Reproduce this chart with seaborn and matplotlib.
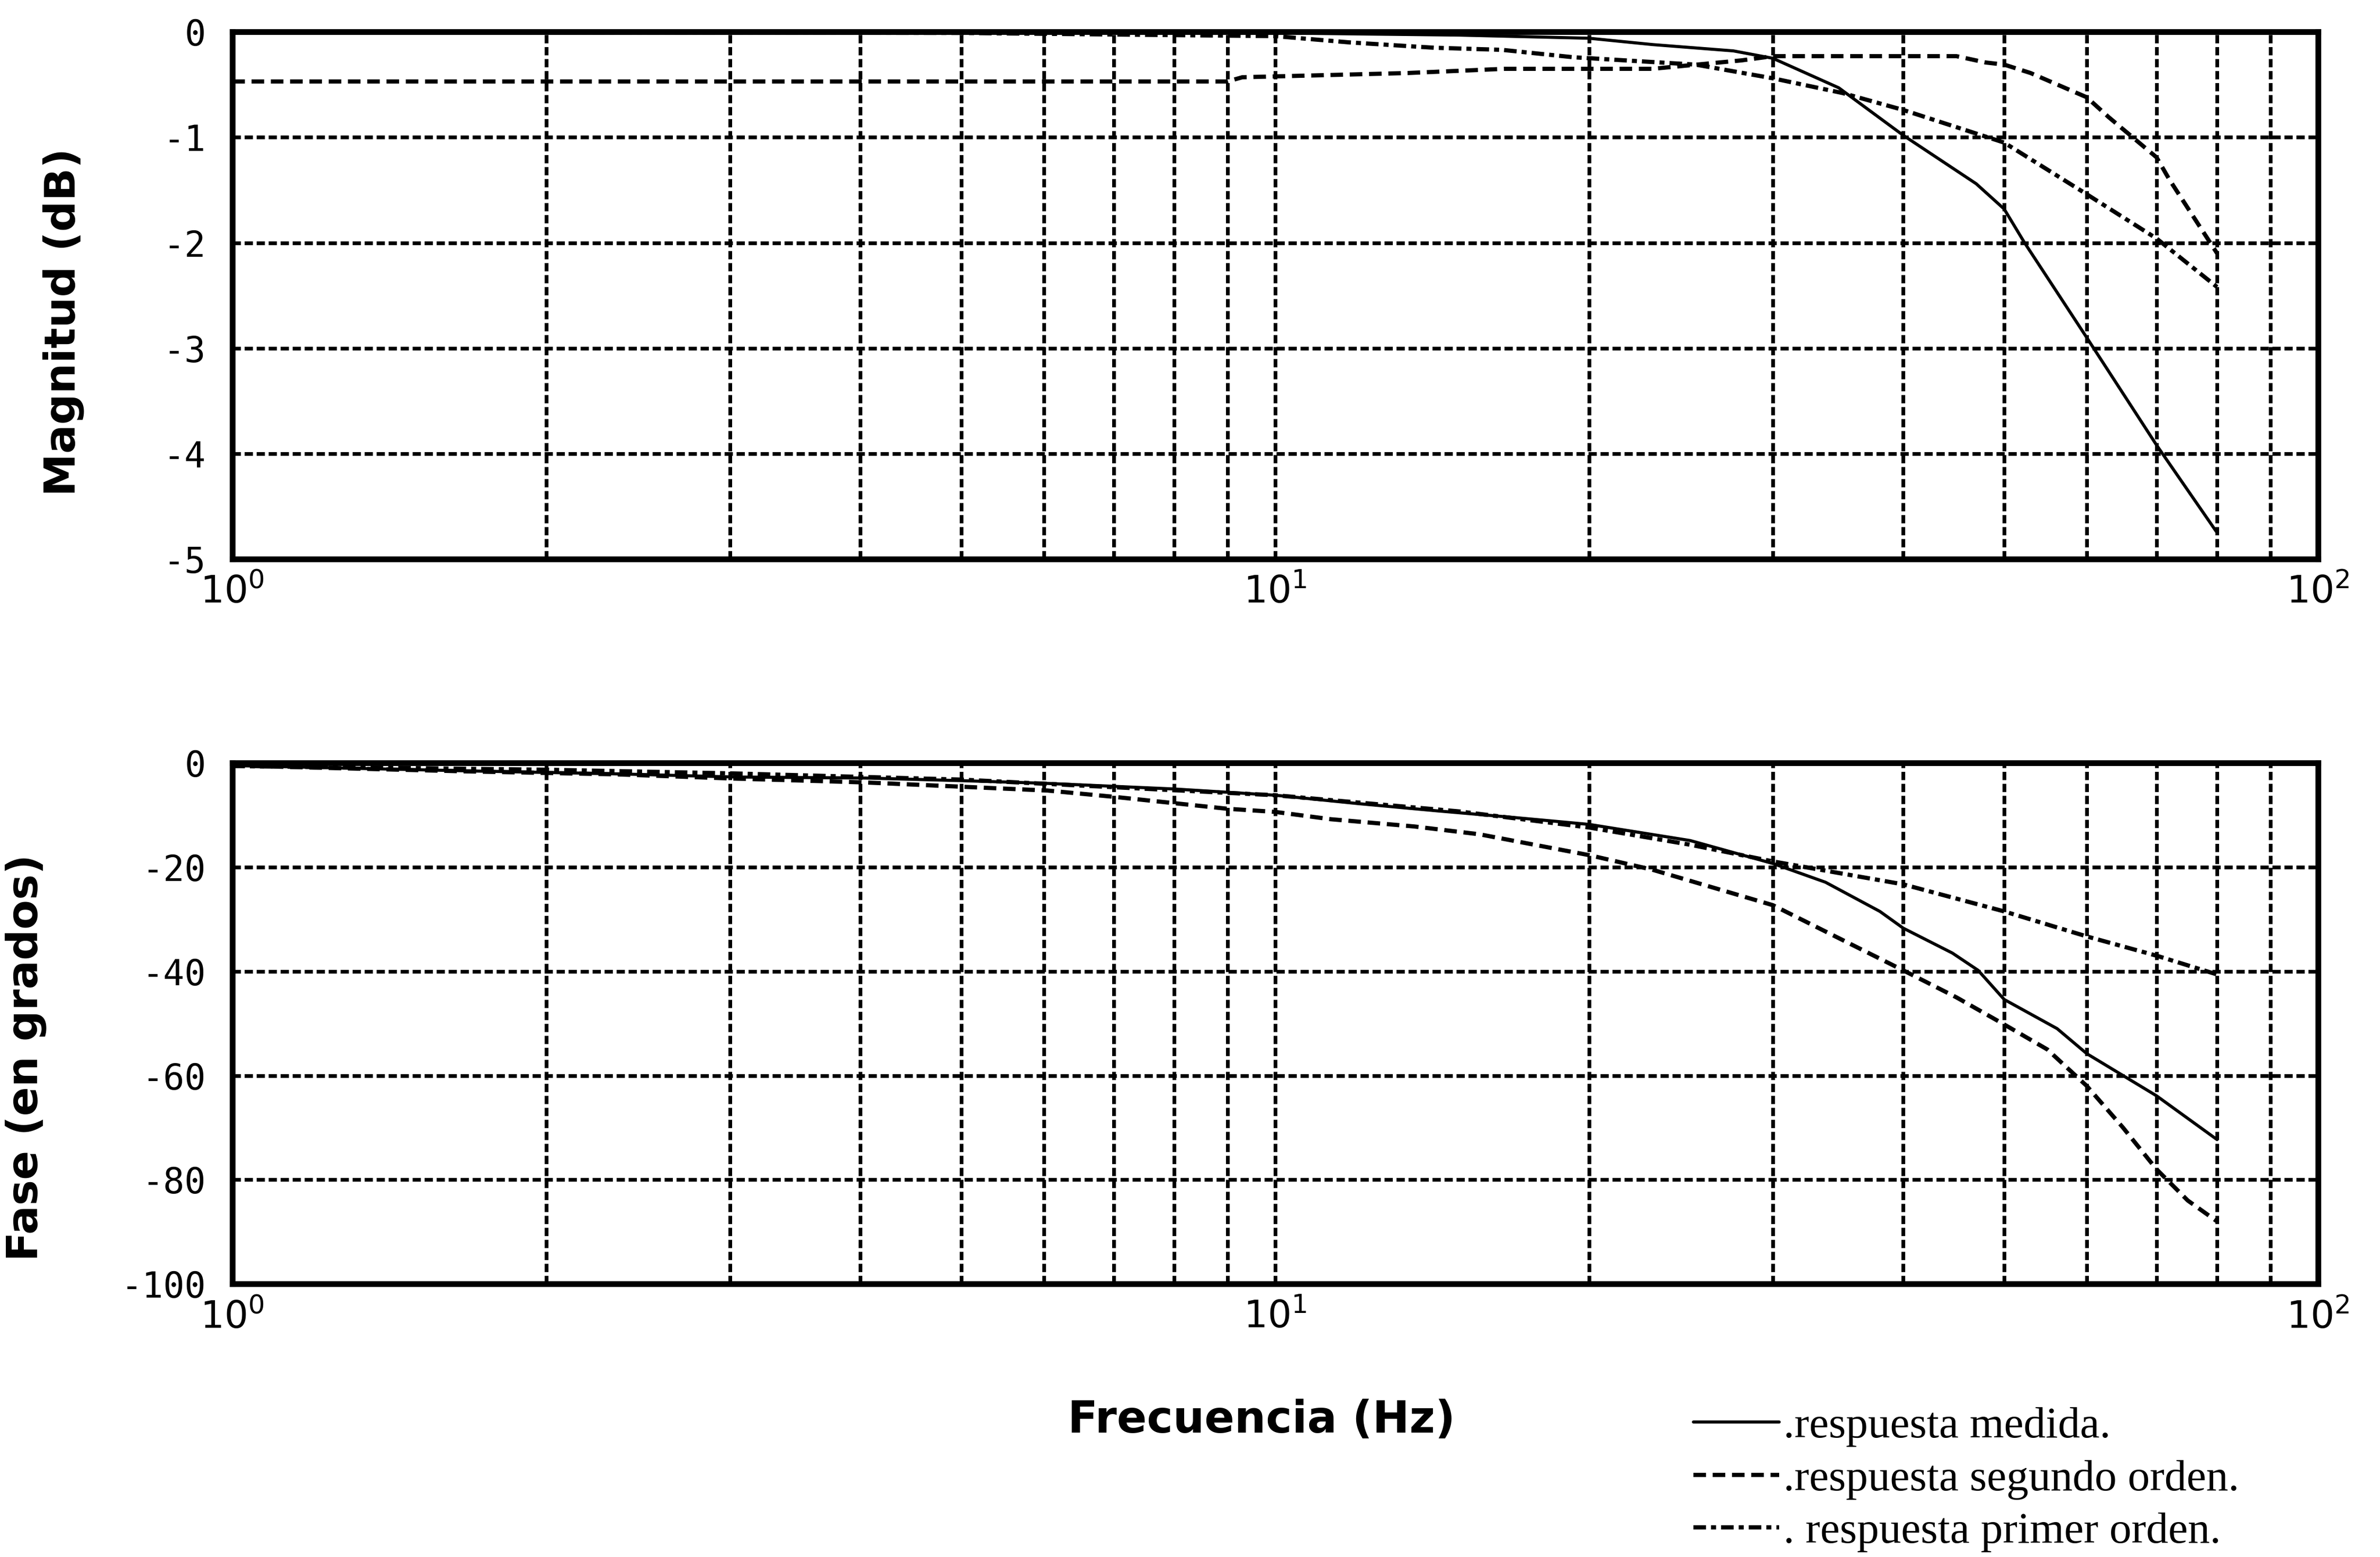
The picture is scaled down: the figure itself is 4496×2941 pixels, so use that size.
import matplotlib
matplotlib.use("Agg")
import matplotlib.pyplot as plt
import matplotlib.ticker as mticker
import seaborn as sns

# ---------------- data ----------------
# Magnitude (dB)
f_mag_medida = [1, 5, 10, 15, 20, 23, 27.5, 30, 34.7, 40, 47, 50, 52.3, 60, 70, 80]
mag_medida = [0.0, 0.0, -0.01, -0.03, -0.06, -0.12, -0.18, -0.25, -0.53, -0.98,
              -1.44, -1.68, -2.0, -2.9, -3.92, -4.75]

f_mag_segundo = [1, 9, 9.3, 13.4, 16.6, 23, 28, 30, 45, 48, 50, 53, 60, 63, 70, 72, 80]
mag_segundo = [-0.47, -0.47, -0.43, -0.39, -0.35, -0.35, -0.27, -0.23, -0.23, -0.29,
               -0.31, -0.39, -0.62, -0.81, -1.19, -1.40, -2.10]

f_mag_primer = [1, 5, 10, 11.8, 14.2, 16.5, 19.3, 22.5, 25.3, 30, 35, 40, 50, 60, 70, 80]
mag_primer = [0.0, -0.01, -0.04, -0.10, -0.15, -0.17, -0.24, -0.28, -0.31, -0.44,
              -0.58, -0.74, -1.05, -1.54, -1.96, -2.42]

# Phase (degrees)
f_fase_medida = [1, 1.66, 2.34, 3.03, 4.05, 5, 6, 8, 10, 12, 14.3, 17, 20, 25, 30,
                 33.7, 38, 40, 44.6, 47.2, 50, 56.2, 60, 70, 80]
fase_medida = [-0.5, -1.5, -2.1, -2.7, -2.9, -3.4, -3.9, -5.0, -6.2, -7.8, -9.2, -10.5,
               -11.8, -14.9, -19.3, -22.9, -28.5, -31.7, -36.5, -39.8, -45.4, -51.0,
               -55.8, -63.9, -72.3]

f_fase_segundo = [1, 1.66, 2.34, 3.03, 4.05, 6.05, 7, 9, 10, 11.3, 13.6, 15.7, 20, 23,
                  30, 40, 45, 50, 55, 60, 65, 70, 75, 80]
fase_segundo = [-0.5, -1.6, -2.2, -3.0, -3.75, -5.3, -6.5, -8.8, -9.4, -10.8, -12.2,
                -13.7, -17.7, -20.5, -27.3, -39.8, -45.0, -50.2, -55.0, -62.0, -70.0,
                -78.0, -84.0, -88.0]

f_fase_primer = [1, 2, 3, 5, 10, 15, 20, 25, 30, 40, 50, 60, 70, 80]
fase_primer = [-0.6, -1.3, -2.0, -3.2, -6.2, -9.3, -12.4, -15.7, -18.9, -23.3, -28.5,
               -33.3, -37.0, -40.6]

mag_ticks = [0, -1, -2, -3, -4, -5]
mag_ticklabels = ["0", "-1", "-2", "-3", "-4", "-5"]
fase_ticks = [0, -20, -40, -60, -80, -100]
fase_ticklabels = ["0", "-20", "-40", "-60", "-80", "-100"]
x_ticks = [1, 10, 100]
x_ticklabels = [r"$10^{0}$", r"$10^{1}$", r"$10^{2}$"]

labels = [".respuesta medida.", ".respuesta segundo orden.", ". respuesta primer orden."]

# ---------------- style ----------------
sns.set_theme(style="white")
plt.rcParams["font.family"] = ["DejaVu Sans"]
plt.rcParams["mathtext.fontset"] = "dejavusans"
plt.rcParams["axes.unicode_minus"] = False
plt.rcParams["text.color"] = "black"
plt.rcParams["axes.labelcolor"] = "black"
plt.rcParams["xtick.color"] = "black"
plt.rcParams["ytick.color"] = "black"

fig = plt.figure(figsize=(4496 / 300, 2941 / 300), dpi=300)
ax1 = fig.add_axes([0.0976, 0.641, 0.8764, 0.3385])
ax2 = fig.add_axes([0.0976, 0.1754, 0.8764, 0.3346])

ls_medida = "-"
ls_segundo = (0, (3.0, 1.6))
ls_primer = (0, (3.0, 1.2, 1.2, 1.2))

def style_axes(ax, ticks, ticklabels, ylim):
    ax.set_xscale("log")
    ax.set_xlim(1, 100)
    ax.set_ylim(*ylim)
    ax.xaxis.set_major_locator(mticker.FixedLocator(x_ticks))
    ax.xaxis.set_minor_locator(mticker.LogLocator(base=10, subs=range(2, 10)))
    ax.xaxis.set_minor_formatter(mticker.NullFormatter())
    ax.set_xticks(x_ticks)
    ax.set_xticklabels(x_ticklabels, fontsize=17, color="black")
    ax.set_yticks(ticks)
    ax.set_yticklabels(ticklabels, fontsize=16, family="DejaVu Sans Mono",
                       color="black")
    ax.tick_params(axis="both", which="both", length=0, colors="black")
    ax.tick_params(axis="y", pad=12)
    ax.tick_params(axis="x", pad=7)
    ax.grid(True, which="both", color="black", linestyle=(0, (2.2, 1.0)),
            linewidth=1.7)
    for s in ax.spines.values():
        s.set_visible(True)
        s.set_color("black")
        s.set_linewidth(2.6)
    ax.set_facecolor("white")
    ax.set_axisbelow(True)

# ---------------- magnitude ----------------
sns.lineplot(x=f_mag_medida, y=mag_medida, ax=ax1, color="black",
             linestyle=ls_medida, linewidth=1.4, label=labels[0])
sns.lineplot(x=f_mag_segundo, y=mag_segundo, ax=ax1, color="black",
             linestyle=ls_segundo, linewidth=1.9, label=labels[1])
sns.lineplot(x=f_mag_primer, y=mag_primer, ax=ax1, color="black",
             linestyle=ls_primer, linewidth=1.9, label=labels[2])
style_axes(ax1, mag_ticks, mag_ticklabels, (-5, 0))
ax1.set_xlabel("")
ax1.set_ylabel("Magnitud (dB)", fontsize=19.5, fontweight="bold", color="black")
ax1.yaxis.set_label_coords(-0.071, 0.45)

# ---------------- phase ----------------
sns.lineplot(x=f_fase_medida, y=fase_medida, ax=ax2, color="black",
             linestyle=ls_medida, linewidth=1.4)
sns.lineplot(x=f_fase_segundo, y=fase_segundo, ax=ax2, color="black",
             linestyle=ls_segundo, linewidth=1.9)
sns.lineplot(x=f_fase_primer, y=fase_primer, ax=ax2, color="black",
             linestyle=ls_primer, linewidth=1.9)
style_axes(ax2, fase_ticks, fase_ticklabels, (-100, 0))
ax2.set_xlabel("")
ax2.set_ylabel("Fase (en grados)", fontsize=19.5, fontweight="bold", color="black")
ax2.yaxis.set_label_coords(-0.089, 0.434)

fig.text(0.53, 0.088, "Frecuencia (Hz)", fontsize=20, fontweight="bold",
         ha="center", va="center", color="black")

# ---------------- legend ----------------
handles, labs = ax1.get_legend_handles_labels()
ax1.get_legend().remove()
fig.legend(handles, labs, loc="upper left", bbox_to_anchor=(0.704, 0.108),
           frameon=False, prop={"family": "Liberation Serif", "size": 20},
           handlelength=1.95, handletextpad=0.1, labelspacing=0.28,
           borderaxespad=0.0, labelcolor="black")

fig.savefig("out.png", dpi=300, facecolor="white")
